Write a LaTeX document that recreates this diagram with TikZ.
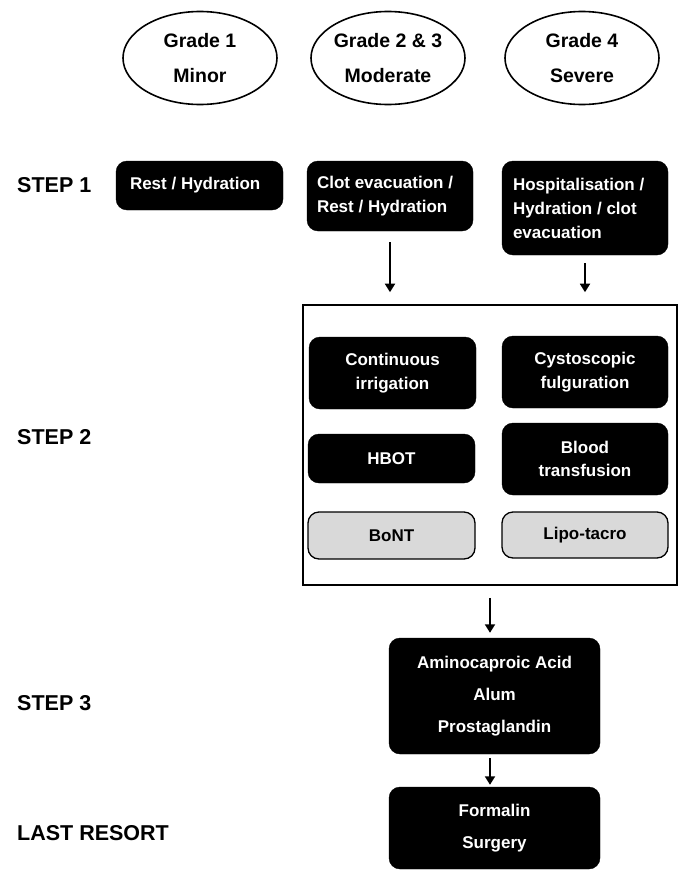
\documentclass[tikz,border=0pt]{standalone}
\usepackage{fontspec}
\setmainfont{Liberation Sans}
\usetikzlibrary{arrows.meta,shapes.geometric}
\begin{document}
\begin{tikzpicture}[x=1pt,y=-1pt,
  grade/.style={ellipse, draw=black, line width=1.6pt, minimum width=154pt, minimum height=93pt, inner sep=0pt, align=center, font=\bfseries\fontsize{19.5}{35}\selectfont},
  steplabel/.style={anchor=west, inner sep=0pt, font=\bfseries\fontsize{21.5}{26}\selectfont},
  blackbox/.style={rectangle, rounded corners=11pt, fill=black, draw=black, text=white, inner sep=0pt},
  leftbox/.style={blackbox, align=flush left, font=\bfseries\fontsize{17}{24}\selectfont},
  ctrbox/.style={blackbox, align=center, font=\bfseries\fontsize{17}{23.5}\selectfont},
  greybox/.style={rectangle, rounded corners=11pt, fill=black!15, draw=black, line width=1.3pt, inner sep=0pt, align=center, font=\bfseries\fontsize{17}{23.5}\selectfont},
  bigbox/.style={rectangle, draw=black, line width=1.6pt, inner sep=0pt},
  tallbox/.style={blackbox, align=center, font=\bfseries\fontsize{17}{32}\selectfont},
  arr/.style={line width=1.8pt, -{Triangle[width=10pt,length=8.5pt]}},
]
\useasboundingbox (0,0) rectangle (680,870);

% grades
\node[grade] (g1) at (200,58) {Grade 1\\Minor};
\node[grade] (g2) at (388,58) {Grade 2 \& 3\\Moderate};
\node[grade] (g3) at (582,58) {Grade 4\\Severe};

% step labels
\node[steplabel] (l1) at (17,185) {STEP 1};
\node[steplabel] (l2) at (17,437) {STEP 2};
\node[steplabel] (l3) at (17,703) {STEP 3};
\node[steplabel] (l4) at (17,833) {LAST RESORT};

% step 1
\node[leftbox, inner xsep=14pt, text width=139pt, minimum height=49pt] (rest) at (199.5,185.5) {Rest / Hydration};
\node[leftbox, inner xsep=10pt, text width=146pt, minimum height=70pt] (clot) at (390,196) {Clot evacuation /\\Rest / Hydration};
\node[leftbox, inner xsep=11pt, text width=144pt, minimum height=94pt] (hosp) at (585,208) {Hospitalisation /\\Hydration / clot\\evacuation};

% step 2
\node[bigbox, minimum width=374pt, minimum height=280pt] (big) at (490,445) {};
\node[ctrbox, minimum width=167pt, minimum height=72pt] (cont) at (392.5,373) {Continuous\\irrigation};
\node[ctrbox, minimum width=166pt, minimum height=72pt] (cysto) at (585,372) {Cystoscopic\\fulguration};
\node[ctrbox, minimum width=167pt, minimum height=49pt] (hbot) at (391.5,458.5) {HBOT};
\node[ctrbox, minimum width=166pt, minimum height=72pt] (blood) at (585,459) {Blood\\transfusion};
\node[greybox, minimum width=167pt, minimum height=47pt] (bont) at (391.5,535.5) {BoNT};
\node[greybox, minimum width=166pt, minimum height=46pt] (lipo) at (585,535) {Lipo-tacro};

% step 3 and last resort
\node[tallbox, minimum width=211pt, minimum height=116pt] (s3) at (494.5,696) {Aminocaproic Acid\\Alum\\Prostaglandin};
\node[tallbox, minimum width=211pt, minimum height=82pt] (last) at (494.5,828) {Formalin\\Surgery};

% arrows
\draw[arr, shorten <=11pt, shorten >=12pt] (clot.south) -- (clot.south |- big.north);
\draw[arr, shorten <=8pt, shorten >=12pt] (hosp.south) -- (hosp.south |- big.north);
\draw[arr, shorten <=12pt, shorten >=5pt] (big.south) -- (big.south |- s3.north);
\draw[arr, shorten <=4pt, shorten >=2pt] (s3.south -| big.south) -- (big.south |- last.north);
\end{tikzpicture}
\end{document}
